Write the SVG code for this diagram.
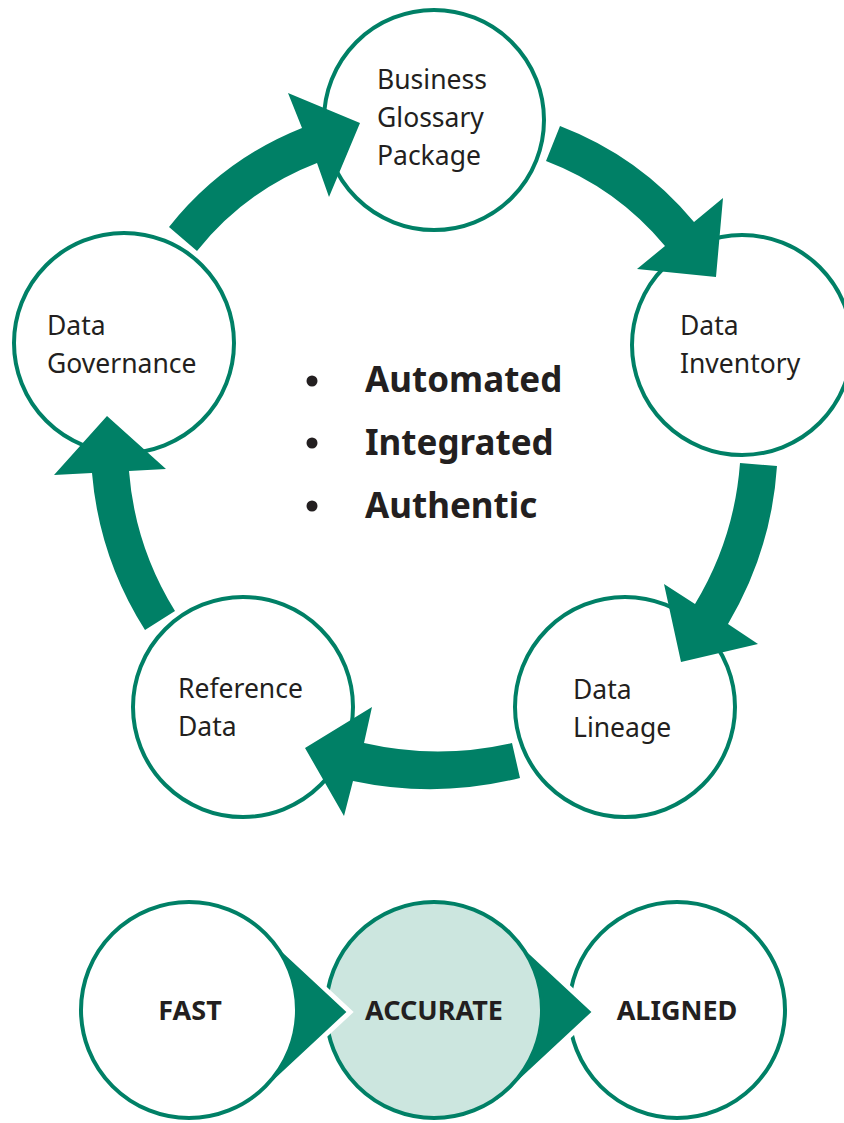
<svg xmlns="http://www.w3.org/2000/svg" width="844" height="1123" viewBox="0 0 844 1123">
<style>
.node{fill:#ffffff;stroke:#008066;stroke-width:4}
.lbl{font-family:"Noto Sans","Open Sans","DejaVu Sans",sans-serif;font-size:26.5px;fill:#231f20}
.big{font-family:"Noto Sans","Open Sans","DejaVu Sans",sans-serif;font-size:35px;font-weight:bold;fill:#231f20}
.bot{font-family:"Noto Sans","Open Sans","DejaVu Sans",sans-serif;font-size:27px;font-weight:bold;fill:#231f20;text-anchor:middle}
.arr{fill:#008066}
.tri{fill:#008066;stroke:#ffffff;stroke-width:5;stroke-linejoin:miter}
</style>
<rect width="844" height="1123" fill="#ffffff"/>
<g id="node-glossary">
<circle class="node" cx="434" cy="120" r="110"/>
<text class="lbl" x="377" y="89">Business</text>
<text class="lbl" x="377" y="127">Glossary</text>
<text class="lbl" x="377" y="165">Package</text>
</g>
<g id="node-inventory">
<circle class="node" cx="742" cy="345" r="110"/>
<text class="lbl" x="680" y="335">Data</text>
<text class="lbl" x="680" y="373">Inventory</text>
</g>
<g id="node-lineage">
<circle class="node" cx="625" cy="707" r="110"/>
<text class="lbl" x="573" y="699">Data</text>
<text class="lbl" x="573" y="737">Lineage</text>
</g>
<g id="node-reference">
<circle class="node" cx="243" cy="707" r="110"/>
<text class="lbl" x="178" y="698">Reference</text>
<text class="lbl" x="178" y="736">Data</text>
</g>
<g id="node-governance">
<circle class="node" cx="124" cy="343" r="110"/>
<text class="lbl" x="47" y="335">Data</text>
<text class="lbl" x="47" y="373">Governance</text>
</g>
<g id="connectors">
<path class="arr" d="M169,227 A322,322 0 0 1 302,128 L288,93 L360,123 L329,197 L317,163 A285,285 0 0 0 197,251 Z"/>
<path class="arr" d="M560,126 A325,325 0 0 1 694,222 L723,198 L716,277 L637,269 L665,246 A288,288 0 0 0 546,161 Z"/>
<path class="arr" d="M777,466 A355,355 0 0 1 728,624 L758,644 L681,662 L664,584 L695,604 A318,318 0 0 0 740,463 Z"/>
<path class="arr" d="M520,778 A369,369 0 0 1 353,781 L344,816 L305,748 L372,707 L364,743 A332,332 0 0 0 512,743 Z"/>
<path class="arr" d="M145,630 A348,348 0 0 1 92,473 L54,475 L107,416 L166,469 L129,471 A312,312 0 0 0 175,611 Z"/>
</g>
<g id="center-list">
<circle cx="312" cy="381" r="5.5" fill="#231f20"/>
<circle cx="312" cy="443" r="5.5" fill="#231f20"/>
<circle cx="312" cy="506" r="5.5" fill="#231f20"/>
<text class="big" x="365" y="392">Automated</text>
<text class="big" x="365" y="455">Integrated</text>
<text class="big" x="365" y="518">Authentic</text>
</g>
<g id="node-aligned">
<circle class="node" cx="677" cy="1010" r="108"/>
<text class="bot" x="677" y="1020">ALIGNED</text>
</g>
<path class="tri" d="M494,918 L595,1012 L494,1106 Z"/>
<g id="node-accurate">
<circle class="node" cx="434" cy="1010" r="108" style="fill:#cce6df"/>
<text class="bot" x="434" y="1020">ACCURATE</text>
</g>
<path class="tri" d="M249,918 L350,1012 L249,1106 Z"/>
<g id="node-fast">
<circle class="node" cx="189" cy="1010" r="108"/>
<text class="bot" x="190" y="1020">FAST</text>
</g>
</svg>
